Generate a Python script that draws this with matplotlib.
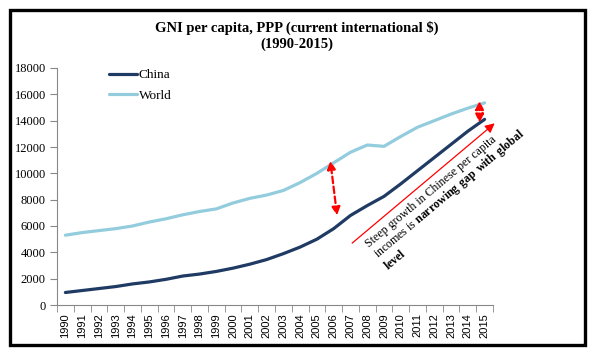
import numpy as np
import matplotlib
matplotlib.use("Agg")
import matplotlib.pyplot as plt
from matplotlib.patches import Rectangle

years = [str(y) for y in range(1990, 2016)]
china = [950, 1100, 1250, 1400, 1600, 1750, 1950, 2200, 2350, 2550, 2800, 3100, 3450,
         3900, 4400, 5000, 5800, 6800, 7550, 8250, 9200, 10200, 11200, 12200, 13200, 14100]
world = [5300, 5500, 5650, 5800, 6000, 6300, 6550, 6850, 7100, 7300, 7750, 8100, 8350,
         8700, 9300, 10000, 10800, 11600, 12150, 12050, 12800, 13500, 14000, 14500, 14950, 15350]
yticks = [0, 2000, 4000, 6000, 8000, 10000, 12000, 14000, 16000, 18000]

serif = "Liberation Serif"
plt.rcParams['font.family'] = serif
plt.rcParams['mathtext.fontset'] = 'custom'
plt.rcParams['mathtext.rm'] = serif
plt.rcParams['mathtext.bf'] = serif + ':bold'

fig = plt.figure(figsize=(5.94, 3.54), dpi=100)
W, H = 594, 354
ax = fig.add_axes([57 / W, 1 - 305 / H, (493 - 57) / W, (305 - 68) / H])

x = np.arange(len(years))
ax.plot(x, china, color='#1F3B63', lw=2.3, label='China', solid_capstyle='round')
ax.plot(x, world, color='#93CDDD', lw=2.3, label='World', solid_capstyle='round')

ax.set_xlim(-0.5, len(years) - 0.5)
ax.set_ylim(0, 18000)
ax.set_yticks(yticks)
ax.set_yticklabels([str(v) for v in yticks], fontsize=9)
ax.set_xticks(x)
ax.set_xticklabels(years, rotation=90, fontsize=8, family='Liberation Sans')
ax.set_xticks(np.arange(-0.5, len(years)), minor=True)
ax.tick_params(axis='x', which='major', length=0, pad=6)
ax.tick_params(axis='x', which='minor', length=5, color='#888888')
ax.tick_params(axis='y', length=5, color='#888888', pad=3)
for s in ['top', 'right']:
    ax.spines[s].set_visible(False)
for s in ['left', 'bottom']:
    ax.spines[s].set_color('#888888')
    ax.spines[s].set_linewidth(0.8)

ax.legend(loc='upper left', bbox_to_anchor=(0.092, 1.045), frameon=False, fontsize=9.5,
          handlelength=2.15, handletextpad=0.1, labelspacing=0.6)

fig.text(0.5, 1 - 36 / H, 'GNI per capita, PPP (current international $)\n(1990-2015)',
         ha='center', va='center', fontsize=10.5, fontweight='bold', linespacing=1.25)

# gap arrows
arr = dict(arrowstyle='<|-|>', color='red', lw=1.6, linestyle=(0, (3, 1.5)),
           mutation_scale=12, shrinkA=0, shrinkB=0)
ax.annotate('', xy=(15.8, 10950), xytext=(16.2, 6800), arrowprops=arr)
ax.annotate('', xy=(24.7, 15500), xytext=(24.7, 13850), arrowprops=arr, annotation_clip=False)

# growth arrow
ax.annotate('', xy=(25.6, 13800), xytext=(17.1, 4700),
            arrowprops=dict(arrowstyle='-|>', color='red', lw=0.9, mutation_scale=14,
                            shrinkA=0, shrinkB=0), annotation_clip=False)

ax.text(17.75, 4900,
        'Steep growth in Chinese per capita\nincomes is $\\bf{narrowing\\ gap\\ with\\ global}$\n$\\bf{level}$',
        rotation=40, rotation_mode='anchor', ha='left', va='top', fontsize=8.6,
        linespacing=1.05)

fig.patches.append(Rectangle((9.5 / W, 1 - 344.5 / H), 575 / W, 335 / H,
                             transform=fig.transFigure, fill=False, ec='black', lw=2.4))

fig.savefig('out.png', dpi=100)
